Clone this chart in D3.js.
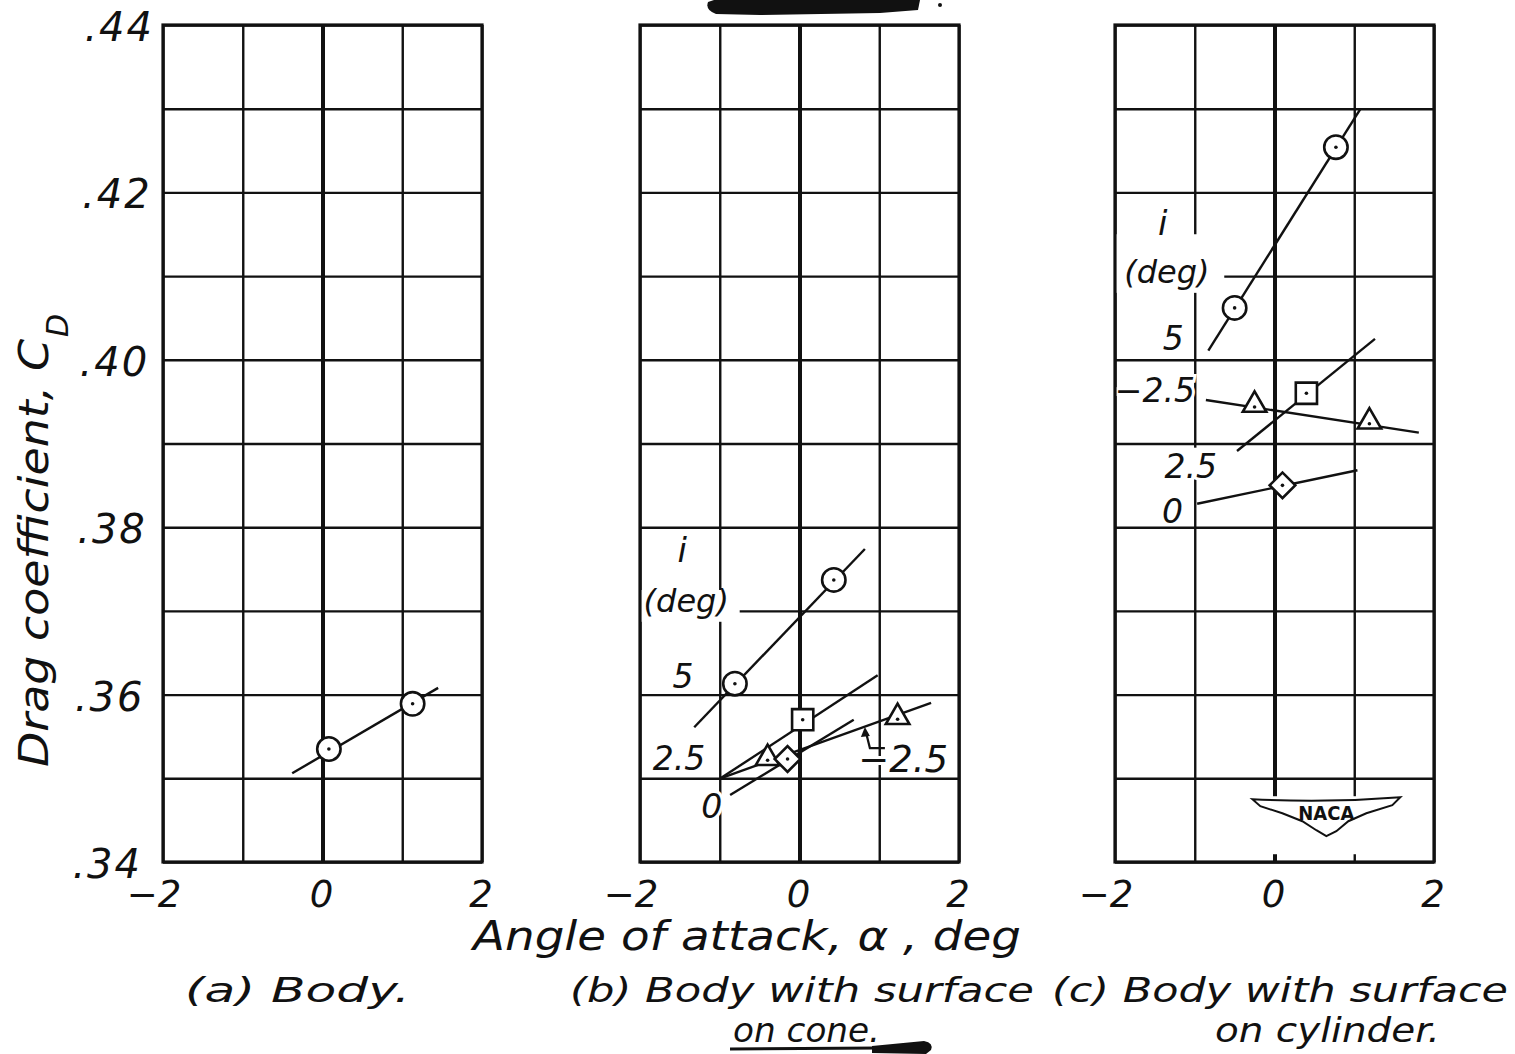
<!DOCTYPE html>
<html>
<head>
<meta charset="utf-8">
<script src="https://cdn.jsdelivr.net/npm/d3@7"></script>
<style>
body{margin:0;background:#fff}
text{font-family:"DejaVu Sans",sans-serif;font-style:oblique;fill:#111}
</style>
</head>
<body>
<div id="chart"></div>
<script>
var w=1515
var h=1054

//Axis ticks and labels
var alphaTicks=[-2,-1,0,1,2]
var alphaLabelValues=[-2,0,2]
var alphaLabels=["\u22122","0","2"]
var cdTicks=[.34,.35,.36,.37,.38,.39,.40,.41,.42,.43,.44]
var cdLabelValues=[.34,.36,.38,.40,.42,.44]
var cdLabels=[".34",".36",".38",".40",".42",".44"]

//Incidence of surface, deg
var incidences=[5,2.5,-2.5,0]
var incidenceLabels=["5","2.5","\u22122.5","0"]

//(a) Body alone
var bodyPoints=[[0.08,0.3535],[1.13,0.3589]]
var bodyFair=[[-0.38,0.3506],[1.45,0.3608]]

//(b) Surface on cone, one entry per incidence
var conePoints=[
  [[-0.81,0.3613],[0.43,0.3737]],
  [[0.04,0.3570]],
  [[-0.40,0.3524],[1.23,0.3573]],
  [[-0.15,0.3523]]
]
var coneFair=[
  [[-1.32,0.3561],[0.82,0.3774]],
  [[-0.99,0.3500],[0.98,0.3623]],
  [[-0.99,0.3500],[1.65,0.3590]],
  [[-0.87,0.3480],[0.68,0.3570]]
]

//(c) Surface on cylinder
var cylPoints=[
  [[-0.50,0.4062],[0.77,0.4254]],
  [[0.40,0.3960]],
  [[-0.25,0.3946],[1.19,0.3926]],
  [[0.10,0.3850]]
]
var cylFair=[
  [[-0.83,0.4011],[1.08,0.4300]],
  [[-0.47,0.3891],[1.26,0.4025]],
  [[-0.86,0.3952],[1.81,0.3913]],
  [[-0.97,0.3828],[1.04,0.3868]]
]

var captions=[["(a) Body."],["(b) Body with surface","on cone."],["(c) Body with surface","on cylinder."]]

//Layout
var plotTop=25
var plotBottom=862
var panelW=319
var panelLefts=[163,640,1115]
var symbolByIncidence={"5":"circle","2.5":"square","-2.5":"triangle","0":"diamond"}

var svg=d3.select("#chart")
          .append("svg")
          .attr("width",w)
          .attr("height",h)

var yScale=d3.scaleLinear()
             .domain([.34,.44])
             .range([plotBottom,plotTop])

var xScales=panelLefts.map(function(l) {
  return d3.scaleLinear().domain([-2,2]).range([l,l+panelW])
})

var line=d3.line()

function symbolPath(type) {
  if (type=="circle") return d3.symbol(d3.symbolCircle,430)()
  if (type=="square") return d3.symbol(d3.symbolSquare,450)()
  if (type=="triangle") return d3.symbol(d3.symbolTriangle,240)()
  return d3.symbol(d3.symbolSquare,330)()
}

//Draw grid for each panel
xScales.forEach(function(x,k) {
  var g=svg.append("g").attr("class","panel-"+k)

  g.append("g")
   .attr("class","grid-x")
   .attr("transform","translate(0,"+plotBottom+")")
   .call(d3.axisBottom(x).tickValues(alphaTicks).tickSize(-(plotBottom-plotTop)).tickFormat(""))
   .call(function(s) {s.select(".domain").remove()})
   .selectAll("line")
   .attr("stroke","#111")
   .attr("stroke-width",function(d) {return d==0?4:2.4})

  g.append("g")
   .attr("class","grid-y")
   .attr("transform","translate("+x.range()[0]+",0)")
   .call(d3.axisLeft(yScale).tickValues(cdTicks).tickSize(-panelW).tickFormat(""))
   .call(function(s) {s.select(".domain").remove()})
   .selectAll("line")
   .attr("stroke","#111")
   .attr("stroke-width",2.4)

  //x tick labels
  g.selectAll(".xlab")
   .data(alphaLabelValues)
   .enter()
   .append("text")
   .attr("x",function(d) {return x(d)+(d<0?-9:-1)})
   .attr("y",907)
   .attr("text-anchor","middle")
   .attr("font-size",37)
   .text(function(d,i) {return alphaLabels[i]})
})

//y tick labels
svg.selectAll(".ylab")
   .data(cdLabelValues)
   .enter()
   .append("text")
   .attr("x",function(d) {return 154-(.44-d)*120})
   .attr("y",function(d) {return yScale(d)+16})
   .attr("text-anchor","end")
   .attr("font-size",40)
   .attr("letter-spacing",2)
   .text(function(d,i) {return cdLabels[i]})

//Label blanking in the grid, like the hand-lettered original
function blank(x0,x1,v0,v1) {
  var y0=Math.min(yScale(v0),yScale(v1)), y1=Math.max(yScale(v0),yScale(v1))
  svg.append("rect")
     .attr("x",x0).attr("y",y0)
     .attr("width",x1-x0).attr("height",y1-y0)
     .attr("fill","#fff")
}
var xb=xScales[1], xc=xScales[2]
blank(xb(-2),xb(-0.75),.3687,.3725)
blank(xc(-2),xc(-0.63),.4080,.4150)
blank(xc(-1.1),xc(-0.95),.3860,.3895)

//NACA logo area
var logo=svg.append("g")
            .attr("transform","translate("+xc(0.65)+","+yScale(.3475)+")")
logo.append("rect").attr("x",-80).attr("y",-3).attr("width",170).attr("height",58).attr("fill","#fff")
logo.append("path")
    .attr("d","M-74,0 Q0,4 74,-2 L66,6 L40,14 L22,22 L10,32 L0,37 L-10,31 L-24,22 L-44,14 L-66,7 Z")
    .attr("fill","#fff")
    .attr("stroke","#111")
    .attr("stroke-width",2)
logo.append("text")
    .attr("x",0).attr("y",21)
    .attr("text-anchor","middle")
    .attr("font-size",19)
    .attr("font-weight","bold")
    .style("font-style","normal")
    .attr("textLength",56)
    .attr("lengthAdjust","spacingAndGlyphs")
    .text("NACA")

//Fairings and symbols
function drawSeries(x,points,fair,type) {
  svg.append("path")
     .attr("d",line(fair.map(function(p) {return [x(p[0]),yScale(p[1])]})))
     .attr("fill","none")
     .attr("stroke","#111")
     .attr("stroke-width",2.4)
  var m=svg.append("g")
  m.selectAll("path")
   .data(points)
   .enter()
   .append("path")
   .attr("d",symbolPath(type))
   .attr("transform",function(d) {
     return "translate("+x(d[0])+","+yScale(d[1])+")"+(type=="diamond"?" rotate(45)":"")
   })
   .attr("fill","#fff")
   .attr("stroke","#111")
   .attr("stroke-width",2.6)
  m.selectAll("circle")
   .data(points)
   .enter()
   .append("circle")
   .attr("cx",function(d) {return x(d[0])})
   .attr("cy",function(d) {return yScale(d[1])+(type=="triangle"?2:0)})
   .attr("r",1.8)
   .attr("fill","#111")
}

drawSeries(xScales[0],bodyPoints,bodyFair,"circle")
incidences.forEach(function(inc,k) {
  drawSeries(xScales[1],conePoints[k],coneFair[k],symbolByIncidence[inc])
  drawSeries(xScales[2],cylPoints[k],cylFair[k],symbolByIncidence[inc])
})

//Incidence labels (alpha, CD placement)
var coneLabelPos=[[-1.46,.36079],[-1.51,.35099],[1.30,.35075],[-1.10,.34526]]
var cylLabelPos=[[-1.27,.40117],[-1.05,.38588],[-1.50,.39496],[-1.28,.38050]]
var coneHead=[[-1.47,.37580],[-1.42,.36987]]
var cylHead=[[-1.40,.41491],[-1.35,.40918]]

function drawLabels(x,pos,head,big) {
  var g=svg.append("g")
  g.selectAll("text")
   .data(incidences)
   .enter()
   .append("text")
   .attr("x",function(d,i) {return x(pos[i][0])})
   .attr("y",function(d,i) {return yScale(pos[i][1])})
   .attr("text-anchor","middle")
   .attr("font-size",function(d) {return d==-2.5&&big?37:33})
   .attr("stroke","#fff")
   .attr("stroke-width",6)
   .attr("paint-order","stroke")
   .text(function(d,i) {return incidenceLabels[i]})
  g.append("text")
   .attr("x",x(head[0][0]))
   .attr("y",yScale(head[0][1]))
   .attr("text-anchor","middle")
   .attr("font-size",34)
   .attr("stroke","#fff").attr("stroke-width",6).attr("paint-order","stroke")
   .text("i")
  g.append("text")
   .attr("x",x(head[1][0]))
   .attr("y",yScale(head[1][1]))
   .attr("text-anchor","middle")
   .attr("font-size",32)
   .text("(deg)")
}
drawLabels(xScales[1],coneLabelPos,coneHead,true)
drawLabels(xScales[2],cylLabelPos,cylHead,false)

//Leader with arrow for the -2.5 curve on cone
var ax=xb(0.82), ay=yScale(.3560)
svg.append("path")
   .attr("d","M"+(ax+20)+","+(ay+20)+" L"+(ax+5)+","+(ay+20)+" L"+(ax+1)+","+(ay+4))
   .attr("fill","none")
   .attr("stroke","#111")
   .attr("stroke-width",2.2)
svg.append("path")
   .attr("d","M"+ax+","+(ay-1)+" L"+(ax-4)+","+(ay+9)+" L"+(ax+5)+","+(ay+8)+" Z")
   .attr("fill","#111")

//Panel frames on top
xScales.forEach(function(x) {
  svg.append("rect")
     .attr("x",x(-2))
     .attr("y",yScale(.44))
     .attr("width",x(2)-x(-2))
     .attr("height",yScale(.34)-yScale(.44))
     .attr("fill","none")
     .attr("stroke","#111")
     .attr("stroke-width",3.2)
})

//Axis titles
svg.append("text")
   .attr("x",473)
   .attr("y",950)
   .attr("font-size",40)
   .attr("textLength",548)
   .attr("lengthAdjust","spacingAndGlyphs")
   .text("Angle  of attack, \u03b1 , deg")

svg.append("text")
   .attr("transform","translate(48,767) rotate(-90)")
   .attr("font-size",41)
   .attr("textLength",428)
   .attr("lengthAdjust","spacingAndGlyphs")
   .text("Drag coefficient, C")
svg.append("text")
   .attr("transform","translate(68,337) rotate(-90)")
   .attr("font-size",30)
   .text("D")

//Captions
var captionX=[[185],[570,733],[1052,1215]]
var captionLen=[[225],[464,147],[456,225]]
captions.forEach(function(c,k) {
  c.forEach(function(t,j) {
    svg.append("text")
       .attr("x",captionX[k][j])
       .attr("y",j==0?1002:1042)
       .attr("font-size",33)
       .attr("textLength",captionLen[k][j])
       .attr("lengthAdjust","spacingAndGlyphs")
       .text(t)
  })
})

//Underline and blot marks of the original sheet
svg.append("path")
   .attr("d","M730,1049 L880,1048")
   .attr("stroke","#111").attr("stroke-width",3)
svg.append("path")
   .attr("d","M872,1046 L924,1041 Q934,1043 931,1050 L926,1054 L872,1053 Z")
   .attr("fill","#111")
svg.append("path")
   .attr("d","M714,0 L920,0 L918,10 L880,13 L760,15 L716,14 Q705,10 708,2 Z")
   .attr("fill","#111")
svg.append("circle").attr("cx",940).attr("cy",5).attr("r",2).attr("fill","#111")
</script>
</body>
</html>
